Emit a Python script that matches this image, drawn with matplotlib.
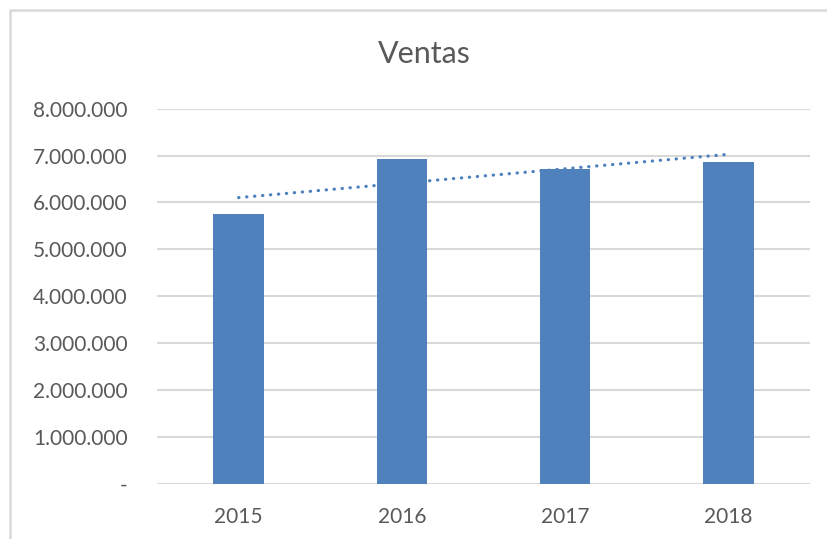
import numpy as np
import matplotlib.pyplot as plt
from matplotlib.lines import Line2D
from matplotlib.ticker import FuncFormatter

years = ["2015", "2016", "2017", "2018"]
ventas = [5760000, 6930000, 6710000, 6860000]
yticks = [0, 1000000, 2000000, 3000000, 4000000, 5000000, 6000000, 7000000, 8000000]

bar_color = "#4F81BD"
grid_color = "#D9D9D9"
text_color = "#595959"

plt.rcParams["font.family"] = ["Lato", "DejaVu Sans"]

fig = plt.figure(figsize=(8.27, 5.39), dpi=100)
ax = fig.add_axes([157 / 827, 1 - 483.7 / 539, (810 - 157) / 827, (483.7 - 108.7) / 539])

x = np.arange(len(years))
ax.bar(x, ventas, width=0.31, color=bar_color, zorder=3)

# linear trendline
coef = np.polyfit(x, ventas, 1)
ax.plot(x, np.polyval(coef, x), linestyle=(0, (0.1, 2.4)), color=bar_color,
        lw=2.3, dash_capstyle="round", zorder=4)

ax.set_xlim(-0.5, 3.5)
ax.set_ylim(0, 8000000)
ax.set_yticks(yticks)
ax.yaxis.set_major_formatter(FuncFormatter(
    lambda v, p: "-" if v == 0 else f"{int(v):,}".replace(",", ".")))
ax.set_xticks(x)
ax.set_xticklabels(years)
ax.grid(axis="y", color=grid_color, lw=1.5, zorder=0)
ax.tick_params(axis="both", length=0, labelsize=15, colors=text_color)
ax.tick_params(axis="y", pad=21)
ax.tick_params(axis="x", pad=17)
for s in ax.spines.values():
    s.set_visible(False)

fig.text(424 / 827, 1 - 54 / 539, "Ventas", ha="center", va="center",
         fontsize=22, color=text_color)

# chart area border (left and top edges visible)
fig.add_artist(Line2D([9.5 / 827, 9.5 / 827, 1], [0, 1 - 9.5 / 539, 1 - 9.5 / 539],
                      transform=fig.transFigure, color=grid_color, lw=1.8))

fig.savefig("out.png", dpi=100)
